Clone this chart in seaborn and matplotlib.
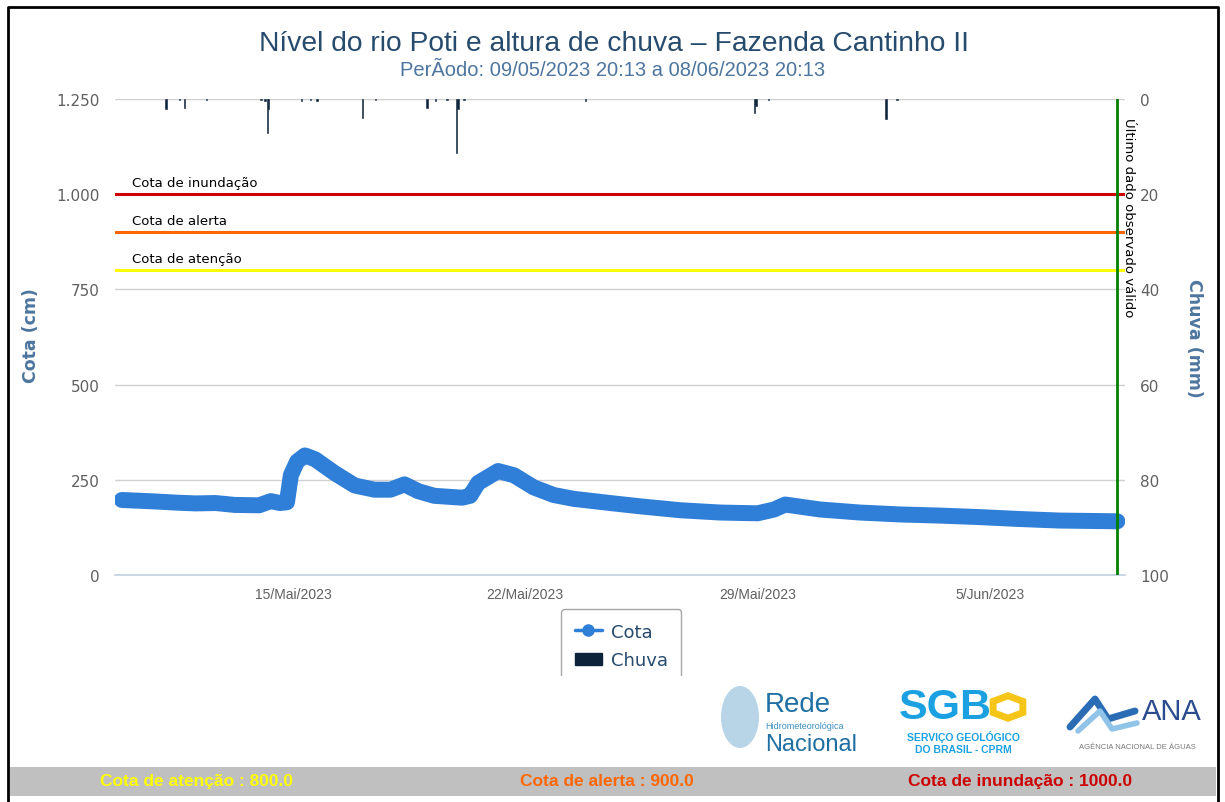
import pandas as pd
import seaborn as sns
import matplotlib.pyplot as plt
from matplotlib import font_manager
from matplotlib.patches import Rectangle, Patch, Ellipse, RegularPolygon
from matplotlib.lines import Line2D

# Cota (cm)
cota_time = ['2023-05-09 20:13', '2023-05-10 21:00', '2023-05-11 12:00', '2023-05-12 01:30',
             '2023-05-12 16:00', '2023-05-13 06:00', '2023-05-13 23:30', '2023-05-14 08:00',
             '2023-05-14 14:30', '2023-05-14 19:40', '2023-05-14 22:30', '2023-05-15 03:00',
             '2023-05-15 08:40', '2023-05-15 16:00', '2023-05-16 06:00', '2023-05-16 20:40',
             '2023-05-17 11:00', '2023-05-17 22:30', '2023-05-18 08:40', '2023-05-18 18:40',
             '2023-05-19 06:10', '2023-05-20 02:20', '2023-05-20 08:10', '2023-05-20 14:00',
             '2023-05-21 04:20', '2023-05-21 15:50', '2023-05-22 06:10', '2023-05-22 20:40',
             '2023-05-23 11:00', '2023-05-24 15:50', '2023-05-25 12:00', '2023-05-26 16:20',
             '2023-05-27 21:10', '2023-05-29 00:00', '2023-05-29 12:00', '2023-05-29 20:00',
             '2023-05-30 21:20', '2023-06-01 02:10', '2023-06-02 07:00', '2023-06-03 12:00',
             '2023-06-04 16:50', '2023-06-05 21:40', '2023-06-07 02:20', '2023-06-08 20:13']
cota_cm = [197, 193, 190, 188,
           189, 184, 183, 194,
           189, 191, 262, 298,
           314, 304, 268, 235,
           224, 224, 238, 220,
           208, 203, 208, 242,
           273, 262, 230, 210,
           200, 188, 180, 170,
           164, 162, 172, 185,
           172, 164, 159, 156,
           152, 147, 143, 141]

# Chuva (mm)
chuva_time = ['2023-05-11 04:20', '2023-05-11 14:00', '2023-05-11 17:30', '2023-05-12 09:20',
              '2023-05-14 01:00', '2023-05-14 03:50', '2023-05-14 05:30', '2023-05-14 06:30',
              '2023-05-15 06:20', '2023-05-15 12:40', '2023-05-15 17:15', '2023-05-17 02:10',
              '2023-05-17 11:50', '2023-05-19 01:00', '2023-05-19 07:00', '2023-05-19 15:20',
              '2023-05-19 22:20', '2023-05-19 23:20', '2023-05-20 03:50', '2023-05-23 19:40',
              '2023-05-28 21:50', '2023-05-28 23:00', '2023-05-29 08:00', '2023-06-01 20:50',
              '2023-06-02 04:50']
chuva_mm = [2.1, 0.2, 1.8, 0.2,
            0.3, 0.4, 7.2, 2.0,
            0.4, 0.2, 0.4, 3.9,
            0.2, 1.8, 0.4, 0.2,
            11.4, 2.1, 0.2, 0.4,
            2.9, 1.5, 0.2, 4.3,
            0.2]

periodo = ('2023-05-09 20:13', '2023-06-08 20:13')
x_ticks = ['2023-05-15', '2023-05-22', '2023-05-29', '2023-06-05']
x_tick_labels = ['15/Mai/2023', '22/Mai/2023', '29/Mai/2023', '5/Jun/2023']
cota_ticks = [0, 250, 500, 750, 1000, 1250]
cota_tick_labels = ['0', '250', '500', '750', '1.000', '1.250']
chuva_ticks = [0, 20, 40, 60, 80, 100]
cotas_ref = {'Cota de inundação': (1000, '#cc0000'),
             'Cota de alerta': (900, '#ff6600'),
             'Cota de atenção': (800, '#ffff00')}

sns.set_theme(style='white')
installed = {f.name for f in font_manager.fontManager.ttflist}
narrow = 'Liberation Sans Narrow' if 'Liberation Sans Narrow' in installed else 'Liberation Sans'
plt.rcParams['font.family'] = ['DejaVu Sans']

df = pd.DataFrame({'time': pd.to_datetime(cota_time), 'cota': cota_cm})
rain = pd.DataFrame({'time': pd.to_datetime(chuva_time), 'chuva': chuva_mm})
t0, t1 = pd.to_datetime(periodo[0]), pd.to_datetime(periodo[1])

W, H = 1225, 803
fig = plt.figure(figsize=(W / 100, H / 100), dpi=100)
ax = fig.add_axes([115 / W, 227 / H, 1010 / W, 476 / H])

# level series
sns.lineplot(data=df, x='time', y='cota', ax=ax, color='#2f7ed8', linewidth=11.5,
             solid_capstyle='round', solid_joinstyle='round', zorder=3)

ax.set_xlim(t0 - pd.Timedelta(hours=4.9), t0 + pd.Timedelta(days=30.23))
ax.set_ylim(0, 1250)
ax.set_yticks(cota_ticks)
ax.set_yticklabels(cota_tick_labels)
ax.set_xticks(pd.to_datetime(x_ticks))
ax.set_xticklabels(x_tick_labels, fontfamily=narrow, fontsize=10, color='#606060')
ax.tick_params(axis='y', length=0, pad=11, labelsize=11, labelcolor='#606060')
ax.tick_params(axis='x', length=7, width=1, color='#c0d0e0', direction='out', pad=2)
ax.grid(axis='y', color='#d0d0d0', linewidth=1)
ax.set_axisbelow(True)
for s in ['top', 'left', 'right']:
    ax.spines[s].set_visible(False)
ax.spines['bottom'].set_color('#c0d0e0')
ax.spines['bottom'].set_linewidth(1.2)
ax.set_xlabel('')
ax.set_ylabel('')

# reference levels
for name, (val, col) in cotas_ref.items():
    ax.axhline(val, color=col, linewidth=2.2, zorder=2)
    ax.annotate(name, xy=(0.017, val), xycoords=ax.get_yaxis_transform(),
                xytext=(0, 3.5), textcoords='offset points', va='bottom', ha='left',
                fontsize=9.5, color='black')

# last valid observation
ax.axvline(t1, color='#008000', linewidth=2, zorder=4)
ax.annotate('Último dado observado válido', xy=(t1, 1250), xycoords='data',
            xytext=(3, -13), textcoords='offset points', rotation=270,
            ha='left', va='top', fontsize=9.5, color='black', zorder=5)

# rain on the right axis, inverted
ax2 = ax.twinx()
ax2.bar(rain['time'], rain['chuva'], width=0.045, color='#0d233a', edgecolor='#0d233a',
        linewidth=0.4, align='center', zorder=3)
ax2.set_ylim(100, 0)
ax2.set_yticks(chuva_ticks)
ax2.tick_params(axis='y', length=0, pad=11, labelsize=11, labelcolor='#606060')
ax2.grid(False)
for s in ['top', 'left', 'right', 'bottom']:
    ax2.spines[s].set_visible(False)
ax2.set_ylabel('')

# axis titles
fig.text(31 / W, 1 - 336 / H, 'Cota (cm)', rotation=90, ha='center', va='center',
         color='#4d759e', fontsize=12.5, fontweight='bold')
fig.text(1194 / W, 1 - 338 / H, 'Chuva (mm)', rotation=270, ha='center', va='center',
         color='#4d759e', fontsize=12.5, fontweight='bold')

# titles
fig.text(614 / W, 1 - 44 / H, 'Nível do rio Poti e altura de chuva – Fazenda Cantinho II',
         ha='center', va='center', fontsize=20.3, color='#274b6d', fontfamily=narrow)
fig.text(613 / W, 1 - 70 / H, 'PerÃodo: 09/05/2023 20:13 a 08/06/2023 20:13',
         ha='center', va='center', fontsize=14.5, color='#4d759e', fontfamily=narrow)

# legend (its bottom edge is cut off in the screenshot)
handles = [Line2D([0], [0], color='#2f7ed8', lw=2.5, marker='o', markersize=8),
           Patch(facecolor='#0d233a', edgecolor='#0d233a')]
leg = fig.legend(handles, ['Cota', 'Chuva'], loc='upper left', bbox_to_anchor=(561 / W, 1 - 610 / H),
                 borderaxespad=0, frameon=True, fancybox=True, fontsize=13, labelcolor='#274b6d',
                 handlelength=1.5, handletextpad=0.5, labelspacing=0.6, borderpad=0.75)
leg.get_frame().set_edgecolor('#909090')
leg.get_frame().set_linewidth(1)
fig.add_artist(Rectangle((540 / W, 1 - 700 / H), 160 / W, 23 / H, transform=fig.transFigure,
                         facecolor='white', edgecolor='none', zorder=10))

# logos (text stand-ins)
fig.add_artist(Ellipse((740 / W, 1 - 718 / H), 38 / W, 62 / H, transform=fig.transFigure,
                       facecolor='#7fb3d5', alpha=0.55, edgecolor='none', zorder=10))
fig.text(765 / W, 1 - 705 / H, 'Rede', fontsize=20, color='#1f6fa3', fontfamily=narrow,
         va='center', ha='left', zorder=11)
fig.text(765 / W, 1 - 727 / H, 'Hidrometeorológica', fontsize=6.5, color='#3a8fc4',
         fontfamily=narrow, va='center', ha='left', zorder=11)
fig.text(765 / W, 1 - 745 / H, 'Nacional', fontsize=17, color='#1f6fa3', fontfamily=narrow,
         va='center', ha='left', zorder=11)
fig.text(945 / W, 1 - 708 / H, 'SGB', fontsize=31, color='#1ba1e2', fontweight='bold',
         fontfamily='Liberation Sans', va='center', ha='center', zorder=11)
fig.add_artist(RegularPolygon((1008 / W, 1 - 708 / H), 6, radius=0.014, orientation=0,
                              transform=fig.transFigure, facecolor='none', edgecolor='#f5c518',
                              linewidth=5, zorder=11))
fig.text(963 / W, 1 - 737 / H, 'SERVIÇO GEOLÓGICO', fontsize=7.5, color='#1ba1e2',
         fontweight='bold', va='center', ha='center', fontfamily='Liberation Sans', zorder=11)
fig.text(963 / W, 1 - 750 / H, 'DO BRASIL - CPRM', fontsize=7.5, color='#1ba1e2',
         fontweight='bold', va='center', ha='center', fontfamily='Liberation Sans', zorder=11)
fig.add_artist(Line2D([1070 / W, 1095 / W, 1108 / W, 1135 / W],
                      [1 - 728 / H, 1 - 700 / H, 1 - 720 / H, 1 - 712 / H],
                      transform=fig.transFigure, color='#2a6db5', linewidth=5, zorder=11))
fig.add_artist(Line2D([1078 / W, 1100 / W, 1112 / W, 1137 / W],
                      [1 - 732 / H, 1 - 712 / H, 1 - 730 / H, 1 - 724 / H],
                      transform=fig.transFigure, color='#8fc3e8', linewidth=4, zorder=11))
fig.text(1172 / W, 1 - 712 / H, 'ANA', fontsize=21, color='#2a4b8d', va='center', ha='center',
         fontfamily='Liberation Sans', zorder=11)
fig.text(1137 / W, 1 - 748 / H, 'AGÊNCIA NACIONAL DE ÁGUAS', fontsize=5.5, color='#777777',
         va='center', ha='center', fontfamily='Liberation Sans', zorder=11)

# bottom band with the reference values
fig.add_artist(Rectangle((10 / W, 1 - 797 / H), 1206 / W, 29 / H, transform=fig.transFigure,
                         facecolor='#c0c0c0', edgecolor='none', zorder=10))
for x, name in [(196, 'Cota de atenção'), (607, 'Cota de alerta'), (1020, 'Cota de inundação')]:
    val, col = cotas_ref[name]
    fig.text(x / W, 1 - 782 / H, f'{name} : {val:.1f}', color=col, fontsize=12.5,
             fontweight='bold', fontfamily='Liberation Sans', va='center', ha='center', zorder=11)

# screenshot frame
fig.add_artist(Line2D([8 / W, 8 / W, 1218 / W, 1218 / W], [0, 1 - 8 / H, 1 - 8 / H, 0],
                      transform=fig.transFigure, color='black', linewidth=2, zorder=12))

fig.savefig('out.png', dpi=100)
